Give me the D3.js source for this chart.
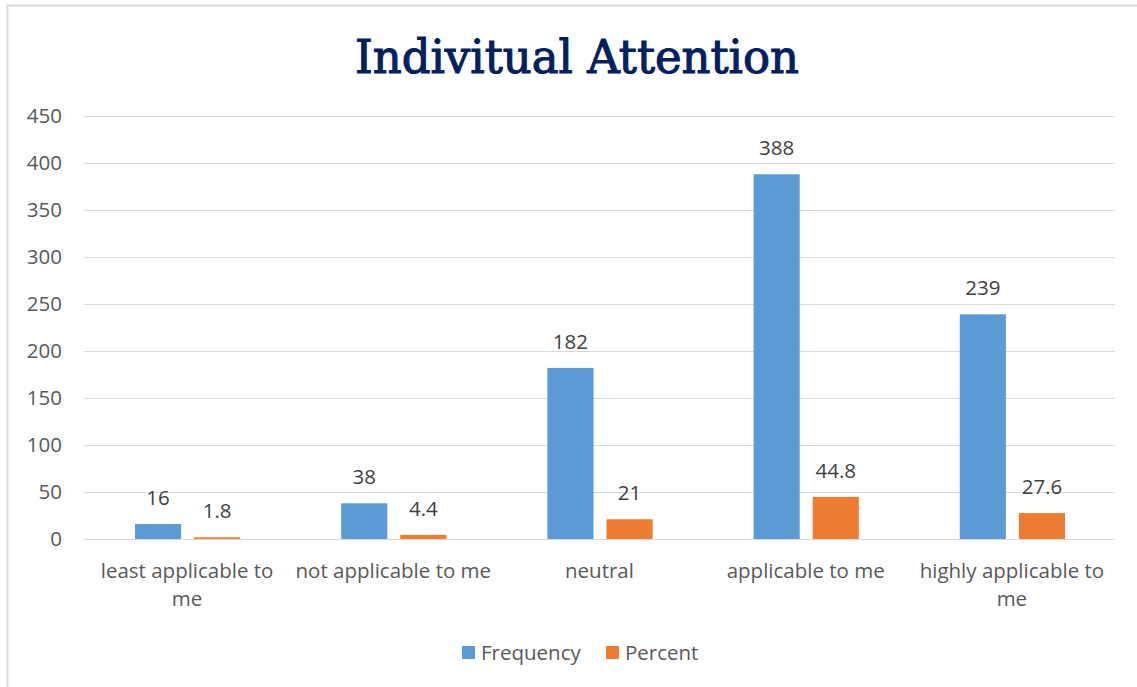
<!DOCTYPE html>
<html>
<head>
<meta charset="utf-8">
<script src="https://cdn.jsdelivr.net/npm/d3@7"></script>
<style>
  body { margin: 0; background: #fff; }
  text { font-family: "Open Sans", "Liberation Sans", sans-serif; }
</style>
</head>
<body>
<div class="chart"></div>
<script>
// data
const categories = [["least applicable to", "me"], ["not applicable to me"], ["neutral"], ["applicable to me"], ["highly applicable to", "me"]];
const frequency = [16, 38, 182, 388, 239];
const percent = [1.8, 4.4, 21, 44.8, 27.6];
const seriesNames = ["Frequency", "Percent"];
const yTicks = [0, 50, 100, 150, 200, 250, 300, 350, 400, 450];

const w = 1137, h = 687;
const colors = ["#5B9BD5", "#ED7D31"];
const fs = "20.5px";

const svg = d3.select(".chart").append("svg")
  .attr("width", w).attr("height", h);

// outer frame
svg.append("path")
  .attr("d", "M7.5," + h + " V5.5 H" + w)
  .attr("fill", "none").attr("stroke", "#d9d9d9").attr("stroke-width", 2);

// title (normal weight thickened with a thin stroke)
svg.append("text")
  .attr("x", 577).attr("y", 73)
  .attr("text-anchor", "middle")
  .attr("fill", "#002060")
  .attr("stroke", "#002060")
  .attr("stroke-width", 1.1)
  .style("font-family", "'DejaVu Serif', serif")
  .style("font-size", "46px")
  .attr("textLength", 444)
  .attr("lengthAdjust", "spacingAndGlyphs")
  .text("Indivitual Attention");

const x0 = d3.scaleBand().domain(d3.range(categories.length)).range([84, 1115]);
const x1 = d3.scaleBand().domain([0, 1]).range([51, x0.bandwidth() - 50]).paddingInner(0.22);
const y = d3.scaleLinear().domain([0, 450]).range([539, 116]);

// gridlines
svg.append("g").selectAll("line").data(yTicks).join("line")
  .attr("x1", 84).attr("x2", 1115)
  .attr("y1", d => Math.round(y(d)) + 0.5).attr("y2", d => Math.round(y(d)) + 0.5)
  .attr("stroke", "#d9d9d9").attr("stroke-width", 1);

// y axis labels
svg.append("g").selectAll("text").data(yTicks).join("text")
  .attr("x", 62).attr("y", d => y(d) + 7)
  .attr("text-anchor", "end")
  .attr("fill", "#595959")
  .style("font-size", fs)
  .text(d => d);

const rows = frequency.map((f, i) => [f, percent[i]]);

const groups = svg.append("g").selectAll("g").data(rows).join("g")
  .attr("transform", (d, i) => "translate(" + x0(i) + ",0)");

groups.selectAll("rect").data(d => d).join("rect")
  .attr("x", (d, j) => x1(j))
  .attr("width", x1.bandwidth())
  .attr("y", d => y(d))
  .attr("height", d => y(0) - y(d))
  .attr("fill", (d, j) => colors[j]);

groups.selectAll("text.val").data(d => d).join("text")
  .attr("class", "val")
  .attr("x", (d, j) => x1(j) + x1.bandwidth() / 2)
  .attr("y", d => y(d) - 19)
  .attr("text-anchor", "middle")
  .attr("fill", "#404040")
  .style("font-size", fs)
  .text(d => d);

// category labels
const cats = svg.append("g").selectAll("text").data(categories).join("text")
  .attr("x", (d, i) => x0(i) + x0.bandwidth() / 2)
  .attr("y", 578)
  .attr("text-anchor", "middle")
  .attr("fill", "#595959")
  .style("font-size", fs);
cats.selectAll("tspan").data(d => d).join("tspan")
  .attr("x", function () { return this.parentNode.getAttribute("x"); })
  .attr("dy", (d, k) => k === 0 ? 0 : 28)
  .text(d => d);

// legend
const legend = svg.append("g").selectAll("g").data(seriesNames).join("g")
  .attr("transform", (d, i) => "translate(" + (i === 0 ? 462 : 606) + ",646)");
legend.append("rect").attr("width", 13).attr("height", 13).attr("fill", (d, i) => colors[i]);
legend.append("text").attr("x", 19).attr("y", 14)
  .attr("fill", "#595959").style("font-size", fs).text(d => d);
</script>
</body>
</html>
